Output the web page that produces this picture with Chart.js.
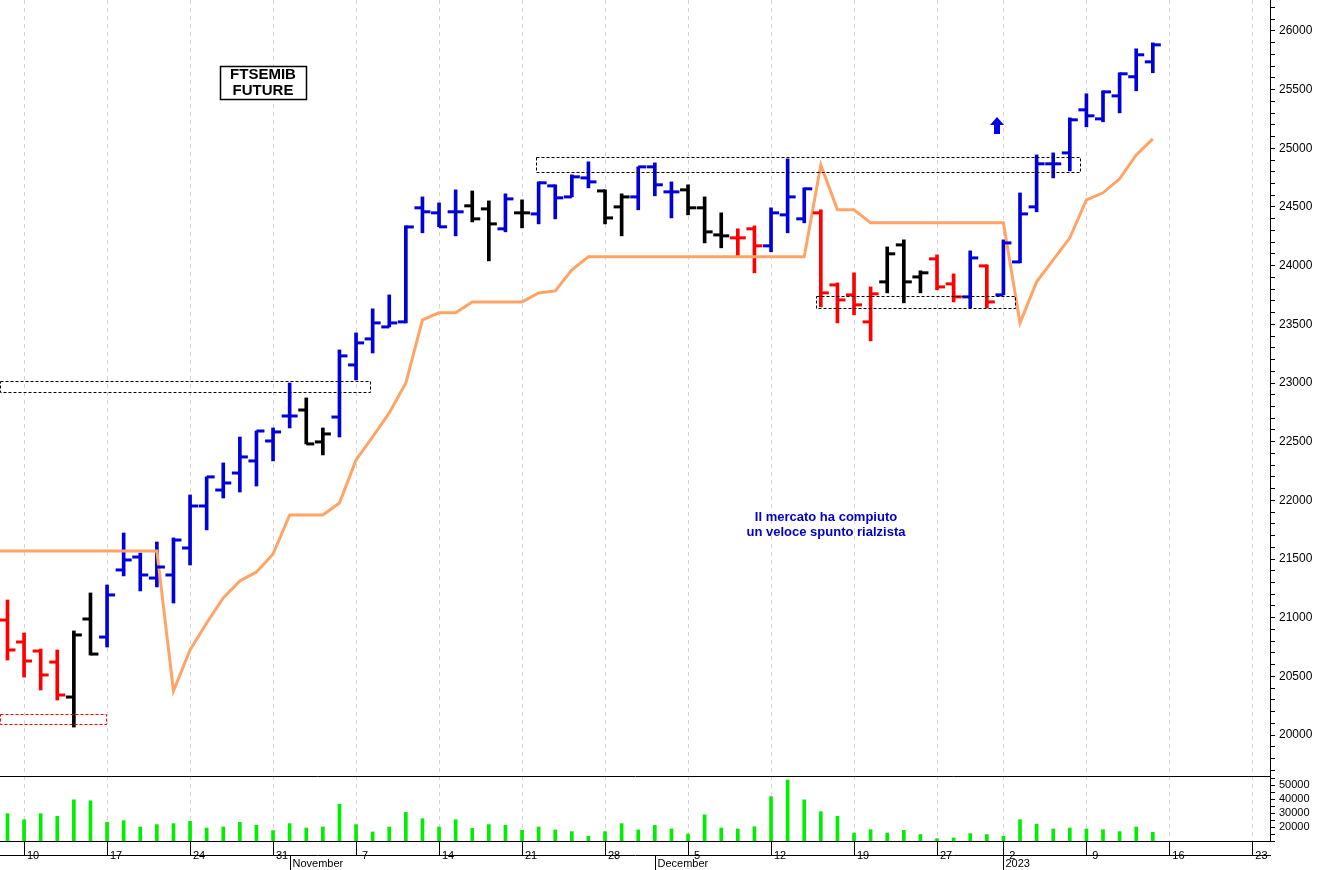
<!DOCTYPE html>
<html><head><meta charset="utf-8">
<script src="https://cdn.jsdelivr.net/npm/chart.js@4.4.0/dist/chart.umd.min.js"></script>
<style>html,body{margin:0;padding:0;background:#fff;overflow:hidden}canvas{display:block}</style>
</head><body>
<canvas id="p" width="1319" height="776"></canvas>
<canvas id="v" width="1319" height="94"></canvas>
<script>
const opens=[20980,20793,20716,20622,20324,20989,20835,21407,21517,21338,21364,21594,21952,22088,22233,22336,22506,22719,22770,22498,22710,23154,23376,23478,23521,24493,24450,24459,24510,24484,24314,24450,24441,24680,24586,24748,24637,24501,24586,24842,24629,24646,24493,24262,24237,24314,24169,24433,24399,24450,23836,23751,23521,23862,24177,23904,24058,23845,23734,23998,23751,24032,24501,24868,24961,25328,25251,25447,25610,25737];
const highs=[21151,20870,20733,20725,20887,21211,21279,21722,21551,21645,21680,22046,22200,22319,22540,22591,22617,23000,22873,22617,23282,23427,23632,23751,24340,24586,24535,24646,24637,24552,24612,24561,24714,24689,24774,24885,24646,24612,24842,24876,24714,24689,24586,24450,24314,24339,24493,24910,24663,24476,23853,23939,23819,24160,24220,23956,24092,23930,24126,24007,24220,24620,24944,24961,25260,25465,25490,25644,25848,25899];
const lows=[20639,20494,20384,20298,20068,20682,20750,21356,21228,21262,21125,21449,21748,22020,22071,22122,22336,22617,22481,22387,22540,23026,23256,23478,23512,24280,24331,24254,24373,24041,24288,24322,24356,24399,24586,24663,24356,24254,24476,24595,24407,24433,24194,24152,24084,23939,24118,24280,24365,23649,23512,23581,23359,23768,23683,23768,23794,23691,23640,23640,23751,24024,24459,24748,24808,25183,25226,25302,25490,25644];
const closes=[20725,20631,20512,20341,20853,20690,21194,21492,21364,21432,21662,21952,22200,22148,22370,22591,22583,22719,22481,22566,23231,23342,23512,23512,24330,24459,24331,24459,24399,24356,24569,24450,24706,24578,24757,24714,24407,24586,24842,24689,24629,24493,24288,24254,24237,24169,24450,24586,24655,23768,23708,23666,23760,24101,23862,23939,23819,23734,24066,23691,24194,24441,24868,24868,25243,25277,25481,25635,25797,25882];
const barColors="RRRRKKBBBBBBBBBBBBKKBBBBBBBBKKBKBBBBKKBBBKKKRRBBBRRRRKKKRRBRBBBBBBBBBB";
const stopLine=[21569,21569,21569,21569,21569,21569,21569,21569,21569,21569,20375,20725,20955,21168,21313,21390,21543,21876,21876,21876,21978,22344,22540,22745,23001,23538,23598,23598,23691,23691,23691,23691,23768,23785,23964,24075,24075,24075,24075,24075,24075,24075,24075,24075,24075,24075,24075,24075,24075,24859,24476,24476,24365,24365,24365,24365,24365,24365,24365,24365,24365,23512,23862,24049,24237,24561,24621,24740,24944,25081];
const stopLineStart=21569;
const volumes=[29500,25200,29500,27600,39400,38700,23300,24500,20000,21700,22400,24000,19300,20000,23300,21200,17400,22400,19300,20000,36300,21700,16500,20000,30400,25900,20000,25200,19000,21700,21200,17600,20000,17900,16700,13400,16700,22400,17900,21200,18600,15000,28700,19300,18600,20200,41700,53600,39400,30900,27600,15700,18100,15700,17600,14600,11700,12200,15300,14600,13400,25200,22100,18600,19300,18600,18100,16700,20000,16200];
const weekTickIdx=[1,6,11,16,21,26,31,36,41,46,51,56,60,65,70,75];
const weekTickLabels=["10","17","24","31","7","14","21","28","5","12","19","27","2","9","16","23"];
const monthIdx=[17,39,60];
const monthLabels=["November","December","2023"];
const boxes=[{x0:-0.45,x1:21.84,y0:22924,y1:23018,c:"#000"},{x0:-0.45,x1:5.94,y0:20094,y1:20179,c:"#ff0000"},{x0:31.84,x1:64.6,y0:24800,y1:24927,c:"#000"},{x0:48.7,x1:60.7,y0:23640,y1:23742,c:"#000"}];
const titleLines=["FTSEMIB","FUTURE"];
const noteLines=["Il mercato ha compiuto","un veloce spunto rialzista"];

const COL={R:"#ff0000",K:"#000000",B:"#0000d8"};
const XMIN=-0.45, XMAX=76.06;
const FONT="'Liberation Sans', Arial, sans-serif";
const gridCol="#d4d4dc";
function noPad(s){s.paddingTop=0;s.paddingBottom=0;s.paddingLeft=0;s.paddingRight=0;}

const ohlcPlugin={id:'ohlc',afterDatasetsDraw(ch){
  const xs=ch.scales.x, ys=ch.scales.y, c=ch.ctx;
  c.save();c.lineWidth=3;c.lineCap='butt';
  for(let i=0;i<opens.length;i++){
    const x=xs.getPixelForValue(i);
    c.strokeStyle=COL[barColors[i]];
    let y=ys.getPixelForValue(opens[i]);
    c.beginPath();c.moveTo(x-8,y);c.lineTo(x,y);c.stroke();
    y=ys.getPixelForValue(closes[i]);
    c.beginPath();c.moveTo(x,y);c.lineTo(x+8,y);c.stroke();
  }
  c.lineWidth=1;c.setLineDash([3,2]);
  boxes.forEach(b=>{
    const x0=xs.getPixelForValue(b.x0),x1=xs.getPixelForValue(b.x1),y0=ys.getPixelForValue(b.y1),y1=ys.getPixelForValue(b.y0);
    c.strokeStyle=b.c;c.strokeRect(Math.round(x0)+0.5,Math.round(y0)+0.5,Math.round(x1-x0),Math.round(y1-y0));
  });
  c.setLineDash([]);
  c.fillStyle='#fff';c.fillRect(220,66,87,34);
  c.strokeStyle='#000';c.lineWidth=1.5;c.strokeRect(220.5,66.5,86,33);
  c.fillStyle='#000';c.font="bold 15px "+FONT;c.textAlign='center';c.textBaseline='middle';
  c.fillText(titleLines[0],263,75);c.fillText(titleLines[1],263,91);
  c.fillStyle='#0000cc';c.font="bold 13px "+FONT;
  c.fillText(noteLines[0],826,517);c.fillText(noteLines[1],826,532);
  c.fillStyle='#0000ee';c.beginPath();
  c.moveTo(997,117);c.lineTo(1004,125);c.lineTo(1000,125);c.lineTo(1000,134);c.lineTo(994,134);c.lineTo(994,125);c.lineTo(990,125);c.closePath();c.fill();
  c.restore();
}};

const pxTicks=[];for(let v=19700;v<=26200;v+=100)pxTicks.push(v);
const lineData=[{x:-1,y:stopLineStart}].concat(stopLine.map((v,i)=>({x:i,y:v})));

new Chart(document.getElementById('p'),{
  type:'bar',
  data:{datasets:[
    {type:'bar',data:lows.map((l,i)=>({x:i,y:[l,highs[i]]})),backgroundColor:lows.map((_,i)=>COL[barColors[i]]),barThickness:3,borderWidth:0,order:2},
    {type:'line',data:lineData,borderColor:'#ffa466',borderWidth:3,pointRadius:0,tension:0,order:1}
  ]},
  options:{responsive:false,animation:false,devicePixelRatio:1,layout:{padding:0},
    plugins:{legend:{display:false},tooltip:{enabled:false}},
    scales:{
      x:{type:'linear',min:XMIN,max:XMAX,offset:false,
        afterBuildTicks(s){s.ticks=weekTickIdx.map(v=>({value:v}));},
        afterFit(s){s.height=0;noPad(s);},
        ticks:{display:false},grid:{color:gridCol,drawTicks:false,offset:false},border:{display:false,dash:[4,4]}},
      y:{position:'right',min:19651,max:26264,
        afterBuildTicks(s){s.ticks=pxTicks.map(v=>({value:v}));},
        afterFit(s){s.width=49;noPad(s);},
        ticks:{autoSkip:false,color:'#000',font:{family:FONT,size:12},padding:4,callback:v=>v%500===0?String(v):''},
        grid:{drawOnChartArea:false,tickLength:5,color:'#000'},border:{color:'#000',width:1}}
    }},
  plugins:[ohlcPlugin]
});

const monthPlugin={id:'months',afterDraw(ch){
  const c=ch.ctx,xs=ch.scales.x;
  c.save();c.strokeStyle='#000';c.lineWidth=1;
  c.beginPath();c.moveTo(0,0.5);c.lineTo(1271,0.5);c.stroke();
  c.beginPath();c.moveTo(0,79.5);c.lineTo(1271,79.5);c.stroke();
  c.fillStyle='#000';c.font="11px "+FONT;c.textBaseline='middle';c.textAlign='left';
  monthIdx.forEach((m,k)=>{const x=Math.round(xs.getPixelForValue(m))+0.5;
    c.beginPath();c.moveTo(x,79);c.lineTo(x,94);c.stroke();
    c.fillText(monthLabels[k],x+2,88);});
  c.restore();
}};
const volTicks=[];for(let v=10000;v<=55000;v+=5000)volTicks.push(v);
new Chart(document.getElementById('v'),{
  type:'bar',
  data:{datasets:[{data:volumes.map((v,i)=>({x:i,y:v})),backgroundColor:'#00ee00',barThickness:3,borderWidth:0}]},
  options:{responsive:false,animation:false,devicePixelRatio:1,layout:{padding:0},
    plugins:{legend:{display:false},tooltip:{enabled:false}},
    scales:{
      x:{type:'linear',min:XMIN,max:XMAX,offset:false,
        afterBuildTicks(s){s.ticks=weekTickIdx.map(v=>({value:v}));},
        afterFit(s){s.height=29;noPad(s);},
        ticks:{autoSkip:false,maxRotation:0,color:'#000',font:{family:FONT,size:11},padding:-6,labelOffset:9,
          callback:(v)=>{const k=weekTickIdx.indexOf(v);return k>=0?weekTickLabels[k]:'';}},
        grid:{color:gridCol,tickLength:14,tickColor:'#000',offset:false},border:{color:'#000',dash:[4,4]}},
      y:{position:'right',min:10000,max:56430,
        afterBuildTicks(s){s.ticks=volTicks.map(v=>({value:v}));},
        afterFit(s){s.width=49;noPad(s);},
        ticks:{autoSkip:false,color:'#000',font:{family:FONT,size:11},padding:4,callback:v=>(v%10000===0&&v>=20000)?String(v):''},
        grid:{drawOnChartArea:false,tickLength:5,color:'#000'},border:{color:'#000',width:1}}
    }},
  plugins:[monthPlugin]
});
</script>
</body></html>
